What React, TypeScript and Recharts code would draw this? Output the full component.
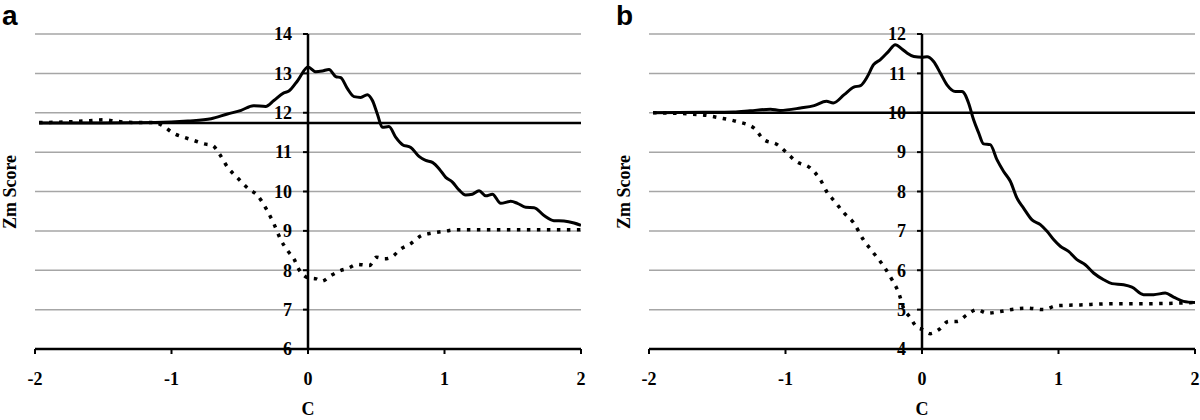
import { LineChart, Line, XAxis, YAxis, CartesianGrid, ReferenceLine, Label } from 'recharts';

// panel a
const aSolidX = [-1.97, -1.5, -1.12, -0.88, -0.71, -0.59, -0.49, -0.4, -0.31, -0.25, -0.18, -0.14, -0.075, 0, 0.056, 0.105, 0.154, 0.203, 0.24, 0.289, 0.337, 0.386, 0.435, 0.472, 0.508, 0.545, 0.593, 0.642, 0.692, 0.753, 0.813, 0.862, 0.911, 0.96, 1.009, 1.058, 1.106, 1.155, 1.204, 1.253, 1.302, 1.351, 1.412, 1.485, 1.534, 1.595, 1.656, 1.729, 1.802, 1.875, 1.949, 2];
const aSolidY = [11.74, 11.74, 11.75, 11.79, 11.85, 11.97, 12.06, 12.18, 12.16, 12.31, 12.5, 12.55, 12.82, 13.16, 13.04, 13.06, 13.1, 12.92, 12.89, 12.61, 12.41, 12.39, 12.46, 12.31, 11.97, 11.63, 11.65, 11.38, 11.19, 11.12, 10.89, 10.79, 10.74, 10.58, 10.36, 10.24, 10.04, 9.91, 9.93, 10.02, 9.89, 9.93, 9.7, 9.75, 9.7, 9.6, 9.59, 9.39, 9.26, 9.25, 9.2, 9.14];
const aDotX = [-1.97, -1.75, -1.6, -1.5, -1.4, -1.25, -1.12, -1.07, -0.98, -0.91, -0.84, -0.76, -0.7, -0.65, -0.59, -0.52, -0.44, -0.37, -0.3, -0.25, -0.2, -0.15, -0.1, -0.07, -0.03, 0, 0.06, 0.1, 0.17, 0.23, 0.3, 0.36, 0.45, 0.5, 0.56, 0.61, 0.68, 0.75, 0.83, 0.9, 1.0, 1.09, 1.3, 1.6, 2];
const aDotY = [11.75, 11.77, 11.8, 11.82, 11.78, 11.75, 11.75, 11.68, 11.47, 11.38, 11.3, 11.21, 11.17, 10.96, 10.62, 10.36, 10.08, 9.9, 9.52, 9.18, 8.78, 8.5, 8.27, 8.04, 7.87, 7.81, 7.78, 7.72, 7.87, 7.98, 8.06, 8.15, 8.12, 8.33, 8.29, 8.33, 8.54, 8.67, 8.88, 8.94, 8.99, 9.03, 9.03, 9.03, 9.03];
const aBaseline = 11.74;
const aTicks = [6, 7, 8, 9, 10, 11, 12, 13, 14];

// panel b
const bSolidX = [-1.97, -1.6, -1.38, -1.26, -1.11, -1.04, -0.89, -0.79, -0.7, -0.65, -0.57, -0.5, -0.45, -0.4, -0.355, -0.305, -0.245, -0.196, -0.147, -0.11, -0.06, 0, 0.037, 0.085, 0.134, 0.183, 0.244, 0.293, 0.341, 0.378, 0.415, 0.451, 0.5, 0.549, 0.598, 0.647, 0.696, 0.744, 0.806, 0.867, 0.916, 0.964, 1.013, 1.074, 1.135, 1.196, 1.257, 1.331, 1.392, 1.477, 1.538, 1.623, 1.697, 1.782, 1.843, 1.916, 2];
const bSolidY = [10.0, 10.01, 10.02, 10.05, 10.09, 10.06, 10.12, 10.18, 10.29, 10.25, 10.46, 10.65, 10.69, 10.92, 11.22, 11.35, 11.56, 11.73, 11.62, 11.52, 11.43, 11.41, 11.42, 11.3, 11.01, 10.71, 10.54, 10.54, 10.25, 9.82, 9.49, 9.21, 9.19, 8.81, 8.51, 8.26, 7.83, 7.58, 7.28, 7.16, 6.99, 6.78, 6.61, 6.48, 6.27, 6.14, 5.93, 5.76, 5.66, 5.63, 5.57, 5.38, 5.38, 5.42, 5.32, 5.21, 5.18];
const bDotX = [-1.97, -1.62, -1.48, -1.36, -1.23, -1.16, -1.06, -0.99, -0.92, -0.82, -0.745, -0.69, -0.65, -0.57, -0.5, -0.43, -0.355, -0.28, -0.22, -0.17, -0.135, -0.086, -0.037, 0, 0.061, 0.122, 0.195, 0.256, 0.33, 0.403, 0.476, 0.574, 0.671, 0.769, 0.891, 0.989, 1.16, 1.4, 1.64, 2];
const bDotY = [10.0, 9.95, 9.87, 9.78, 9.61, 9.32, 9.19, 8.98, 8.76, 8.6, 8.3, 7.95, 7.79, 7.45, 7.2, 6.78, 6.44, 6.1, 5.76, 5.42, 5.04, 4.8, 4.55, 4.5, 4.39, 4.49, 4.7, 4.7, 4.87, 5.0, 4.91, 4.95, 5.01, 5.04, 5.0, 5.1, 5.12, 5.15, 5.15, 5.18];
const bBaseline = 10;
const bTicks = [4, 5, 6, 7, 8, 9, 10, 11, 12];

const xTicks = [-2, -1, 0, 1, 2];

const zip = (xs: number[], ys: number[]) => xs.map((x, i) => ({ x, y: ys[i] }));

const serif = '"Liberation Serif", "Times New Roman", serif';

type PanelProps = {
  letter: string;
  left: number;
  marginLeft: number;
  marginRight: number;
  solid: { x: number; y: number }[];
  dotted: { x: number; y: number }[];
  baseline: number;
  ticks: number[];
};

const W = 600;
const H = 420;
const TOP = 34;
const XAXIS_H = 71;

function Panel({ letter, left, marginLeft, marginRight, solid, dotted, baseline, ticks }: PanelProps) {
  const plotW = W - marginLeft - marginRight;
  const half = plotW / 2;
  const plotMidY = TOP + (H - TOP - XAXIS_H) / 2;
  const zeroX = marginLeft + half;

  const yTick = (props: any) => {
    const { y, payload } = props;
    return (
      <g>
        <line x1={zeroX - 5} y1={y} x2={zeroX} y2={y} stroke="#000" strokeWidth={2} />
        <text x={zeroX - 16} y={y} dy="0.35em" textAnchor="end" style={{ fontFamily: serif, fontWeight: 'bold', fontSize: 18 }} fill="#000">
          {payload.value}
        </text>
      </g>
    );
  };

  return (
    <div style={{ position: 'absolute', left, top: 0, width: W, height: H, fontFamily: serif }}>
      <LineChart width={W} height={H} margin={{ top: TOP, right: marginRight, bottom: 0, left: marginLeft - 1 }} style={{ fontFamily: serif }}>
        <CartesianGrid vertical={false} stroke="#a6a6a6" strokeWidth={1.5} />
        <XAxis
          type="number"
          dataKey="x"
          domain={[-2, 2]}
          ticks={xTicks}
          allowDataOverflow
          height={XAXIS_H}
          axisLine={{ stroke: '#000', strokeWidth: 2.5 }}
          tickLine={{ stroke: '#000', strokeWidth: 2 }}
          tickSize={5}
          tickMargin={18}
          tick={{ fill: '#000', fontFamily: serif, fontWeight: 'bold', fontSize: 18 }}
        >
          <Label value="C" position="insideBottom" offset={5} fill="#000" fontFamily={serif} fontWeight="bold" fontSize={18} />
        </XAxis>
        <YAxis
          type="number"
          domain={[ticks[0], ticks[ticks.length - 1]]}
          ticks={ticks}
          width={1}
          axisLine={false}
          tickLine={false}
          tick={yTick}
        />
        <ReferenceLine
          segment={[{ x: -1.97, y: baseline }, { x: 2, y: baseline }]}
          stroke="#000"
          strokeWidth={2.5}
        />
        <Line data={dotted} dataKey="y" type="monotone" stroke="#000" strokeWidth={3.5} strokeDasharray="3.5 6.5" dot={false} isAnimationActive={false} />
        <Line data={solid} dataKey="y" type="monotone" stroke="#000" strokeWidth={3} dot={false} isAnimationActive={false} />
        <ReferenceLine x={0} stroke="#000" strokeWidth={2.5} />
      </LineChart>
      <div
        style={{
          position: 'absolute',
          left: marginLeft - 25,
          top: plotMidY,
          transform: 'translate(-50%, -50%) rotate(-90deg)',
          whiteSpace: 'nowrap',
          fontFamily: serif,
          fontWeight: 'bold',
          fontSize: 18,
          lineHeight: '20px',
          color: '#000',
        }}
      >
        Zm Score
      </div>
      <div
        style={{
          position: 'absolute',
          left: marginLeft - 33,
          top: 2,
          fontFamily: '"Liberation Sans", Arial, sans-serif',
          fontWeight: 'bold',
          fontSize: 28,
          lineHeight: '28px',
          color: '#000',
        }}
      >
        {letter}
      </div>
    </div>
  );
}

export default function App() {
  return (
    <div style={{ position: 'absolute', left: 0, top: 0, width: 1200, height: 420, background: '#fff' }}>
      <Panel
        letter="a"
        left={0}
        marginLeft={35}
        marginRight={19}
        solid={zip(aSolidX, aSolidY)}
        dotted={zip(aDotX, aDotY)}
        baseline={aBaseline}
        ticks={aTicks}
      />
      <Panel
        letter="b"
        left={600}
        marginLeft={49}
        marginRight={5}
        solid={zip(bSolidX, bSolidY)}
        dotted={zip(bDotX, bDotY)}
        baseline={bBaseline}
        ticks={bTicks}
      />
    </div>
  );
}
